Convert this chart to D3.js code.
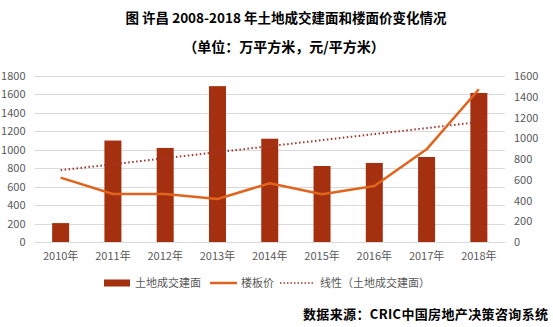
<!DOCTYPE html>
<html><head><meta charset="utf-8">
<script src="https://cdn.jsdelivr.net/npm/d3@7"></script>
<style>body{margin:0;background:#fff}svg{display:block}</style>
</head><body>
<svg id="c" width="553" height="327"></svg>
<script>
const categories = ["2010年","2011年","2012年","2013年","2014年","2015年","2016年","2017年","2018年"];
const areaValues = [205,1100,1020,1690,1120,824,857,922,1616];
const priceValues = [620,463,463,414,566,460,540,893,1472];
const leftTicks = [0,200,400,600,800,1000,1200,1400,1600,1800];
const rightTicks = [0,200,400,600,800,1000,1200,1400,1600];
const legendLabels = ["土地成交建面","楼板价","线性（土地成交建面）"];

(function(){
const svg = d3.select("#c");
const font = "'Noto Sans CJK SC','Microsoft YaHei',sans-serif";
const barColor = "#A5300F", lineColor = "#E0641E", trendColor = "#A0352B";
const pTop = 76, pBottom = 242, pLeft = 34.5, pRight = 505;

const x = d3.scaleBand().domain(categories).range([pLeft,pRight]).paddingInner(0.675).paddingOuter(0.3375);
const yL = d3.scaleLinear().domain([0,1800]).range([pBottom,pTop]);
const yR = d3.scaleLinear().domain([0,1600]).range([pBottom,pTop]);

// title
svg.append("text").attr("x",286).attr("y",23).attr("text-anchor","middle")
  .attr("font-family",font).attr("font-weight","bold").attr("font-size",13.5).attr("fill","#000")
  .text("图 许昌 2008-2018 年土地成交建面和楼面价变化情况");
svg.append("text").attr("x",284).attr("y",51.5).attr("text-anchor","middle")
  .attr("font-family",font).attr("font-weight","bold").attr("font-size",14).attr("fill","#000")
  .text("（单位：万平方米，元/平方米）");

// gridlines
svg.append("g").selectAll("line").data(leftTicks).join("line")
  .attr("x1",pLeft).attr("x2",pRight).attr("y1",d=>Math.round(yL(d))+0.5).attr("y2",d=>Math.round(yL(d))+0.5)
  .attr("stroke","#d9d9d9").attr("stroke-width",1);

// left axis
const la = svg.append("g").attr("transform",`translate(${pLeft},0)`)
  .call(d3.axisLeft(yL).tickValues(leftTicks).tickFormat(d3.format("d")).tickSize(0).tickPadding(9));
la.select(".domain").remove();
la.selectAll("text").attr("font-family",font).attr("font-size",11).attr("fill","#595959");

// right axis
const ra = svg.append("g").attr("transform",`translate(${pRight},0)`)
  .call(d3.axisRight(yR).tickValues(rightTicks).tickFormat(d3.format("d")).tickSize(0).tickPadding(9));
ra.select(".domain").remove();
ra.selectAll("text").attr("font-family",font).attr("font-size",11).attr("fill","#595959");

// x axis
const xa = svg.append("g").attr("transform",`translate(0,${pBottom})`)
  .call(d3.axisBottom(x).tickSize(0).tickPadding(10));
xa.select(".domain").attr("stroke","#d9d9d9");
xa.selectAll("text").attr("font-family",font).attr("font-size",11).attr("fill","#595959");

// bars
svg.append("g").selectAll("rect").data(areaValues).join("rect")
  .attr("x",(d,i)=>x(categories[i])).attr("width",x.bandwidth())
  .attr("y",d=>yL(d)).attr("height",d=>pBottom-yL(d)).attr("fill",barColor);

// trendline (linear regression of area values)
const n = areaValues.length;
const xs = d3.range(1,n+1);
const mx = d3.mean(xs), my = d3.mean(areaValues);
const slope = d3.sum(xs.map((v,i)=>(v-mx)*(areaValues[i]-my)))/d3.sum(xs.map(v=>(v-mx)*(v-mx)));
const icpt = my - slope*mx;
const cx = c => x(c)+x.bandwidth()/2;
svg.append("line")
  .attr("x1",cx(categories[0])).attr("y1",yL(icpt+slope*1))
  .attr("x2",cx(categories[n-1])).attr("y2",yL(icpt+slope*n))
  .attr("stroke",trendColor).attr("stroke-width",2).attr("stroke-dasharray","1.5,2.5");

// price line
svg.append("path").datum(priceValues)
  .attr("d",d3.line().x((d,i)=>cx(categories[i])).y(d=>yR(d)))
  .attr("fill","none").attr("stroke",lineColor).attr("stroke-width",2.5).attr("stroke-linejoin","round");

// legend
const lg = svg.append("g");
const ly = 283;
lg.append("rect").attr("x",104).attr("y",ly-3.5).attr("width",26).attr("height",7).attr("fill",barColor);
lg.append("text").attr("x",135).attr("y",ly+4).text(legendLabels[0]);
lg.append("line").attr("x1",210).attr("x2",237).attr("y1",ly).attr("y2",ly).attr("stroke",lineColor).attr("stroke-width",2.5);
lg.append("text").attr("x",241).attr("y",ly+4).text(legendLabels[1]);
lg.append("line").attr("x1",280).attr("x2",315).attr("y1",ly).attr("y2",ly).attr("stroke",trendColor).attr("stroke-width",1.5).attr("stroke-dasharray","1.5,2");
lg.append("text").attr("x",320).attr("y",ly+4).text(legendLabels[2]);
lg.selectAll("text").attr("font-family",font).attr("font-size",11).attr("fill","#595959");

// source
svg.append("text").attr("x",548).attr("y",318.5).attr("text-anchor","end")
  .attr("font-family",font).attr("font-weight","bold").attr("font-size",13).attr("fill","#000")
  .attr("textLength",245).attr("lengthAdjust","spacing")
  .text("数据来源：CRIC中国房地产决策咨询系统");
})();
</script>
</body></html>
